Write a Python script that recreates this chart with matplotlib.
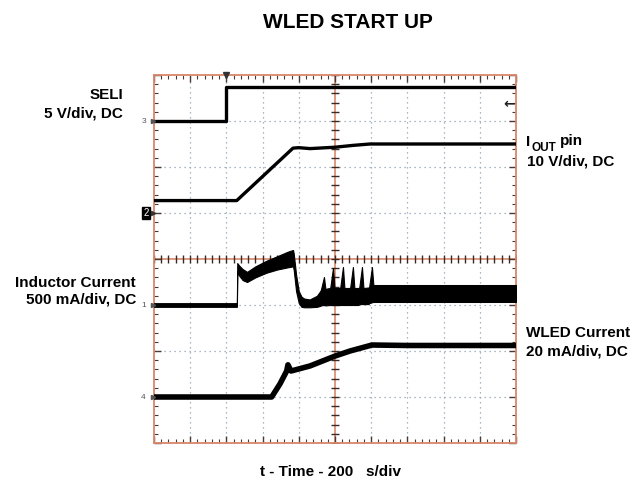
import numpy as np
import matplotlib.pyplot as plt

plt.rcParams['font.family'] = ['Liberation Sans', 'DejaVu Sans']

# time in us, 200 us/div, 10 div
# CH3 SELI, 5 V/div, ground marker at +3 div
seli_t = [0, 400, 400, 2000]
seli_v = [0, 0, 3.7, 3.7]

# CH2 IOUT pin, 10 V/div, ground marker at +1 div
iout_t = [0, 457, 768, 800, 862, 1000, 1100, 1193, 2000]
iout_v = [2.7, 2.7, 14.1, 14.2, 14.0, 14.3, 14.7, 15.0, 15.0]

# CH1 inductor current, 500 mA/div, marker at -1 div (upper / lower envelope of ripple)
ind_t = [0, 458, 460, 470, 490, 514, 560, 620, 680, 740, 768, 772, 785, 800, 815, 830,
         860, 900, 918, 922, 939, 947, 970, 974, 989, 997, 1025, 1029, 1044, 1052,
         1080, 1084, 1099, 1107, 1130, 1134, 1149, 1157, 1185, 1189, 1204, 1212, 1250, 2000]
ind_hi = [20, 20, 456, 430, 390, 360, 420, 480, 530, 580, 598, 560, 330, 150, 90, 70,
          60, 100, 150, 165, 304, 175, 185, 190, 402, 185, 185, 190, 413, 185,
          185, 190, 413, 185, 185, 190, 413, 185, 190, 200, 413, 217, 217, 217]
ind_lo = [-20, -20, 360, 320, 270, 250, 300, 350, 385, 410, 420, 380, 150, 20, -20, -25,
          -25, -20, -10, -5, 0, -5, 0, 0, 0, 0, 0, 0, 0, 0,
          0, 0, 0, 0, 0, 10, 10, 10, 10, 20, 30, 33, 33, 33]

# CH4 WLED current, 20 mA/div, marker at -3 div
wled_t = [0, 650, 696, 733, 740, 757, 862, 1000, 1083, 1204, 1400, 2000]
wled_i = [0, 0, 5.7, 11.3, 14.0, 11.3, 13.5, 17.8, 20.0, 22.6, 22.4, 22.4]

GRID = '#d9876b'
DOT = '#8fa0b3'

fig = plt.figure(figsize=(6.38, 4.8), dpi=100)
ax = fig.add_axes([154 / 638, 1 - 443 / 480, 362 / 638, 368 / 480])
ax.set_xlim(0, 2000)
ax.set_ylim(-4, 4)

# graticule
for k in range(1, 10):
    if k != 5:
        ax.axvline(k * 200, color=DOT, lw=0.9, ls=(0, (1, 3)), zorder=1)
for k in range(-3, 4):
    if k != 0:
        ax.axhline(k, color=DOT, lw=0.9, ls=(0, (1, 3)), zorder=1)
ax.axvline(1000, color=GRID, lw=1.2, zorder=1)
ax.axhline(0, color=GRID, lw=1.2, zorder=1)
minor_x = np.arange(0, 2001, 40)
minor_y = np.arange(-4, 4.01, 0.2)
ax.plot(minor_x, np.zeros_like(minor_x), ls='none', marker='|', ms=6, mew=1.0,
        color='#3a2a25', zorder=2)
ax.plot(np.full_like(minor_y, 1000), minor_y, ls='none', marker='_', ms=6, mew=1.0,
        color='#3a2a25', zorder=2)

for s in ax.spines.values():
    s.set_color(GRID)
    s.set_linewidth(1.3)
ax.set_xticks(np.arange(0, 2001, 200))
ax.set_yticks(np.arange(-4, 5, 1))
ax.set_xticks(minor_x, minor=True)
ax.set_yticks(minor_y, minor=True)
ax.tick_params(which='both', direction='in', top=True, right=True,
               labelbottom=False, labelleft=False, color='#4a3a35')
ax.tick_params(which='major', length=5, width=1.0)
ax.tick_params(which='minor', length=3, width=0.8)

# traces
ax.plot(seli_t, 3 + np.array(seli_v) / 5, color='black', lw=2.4, zorder=5)
ax.plot(iout_t, 1 + np.array(iout_v) / 10, color='black', lw=2.4, zorder=5)
ax.fill_between(ind_t, -1 + np.array(ind_hi) / 500, -1 + np.array(ind_lo) / 500,
                color='black', lw=0.8, zorder=5)
ax.plot(wled_t, -3 + np.array(wled_i) / 20, color='black', lw=4, zorder=5)

# channel markers
for ch, off in [('3', 3), ('1', -1), ('4', -3)]:
    ax.plot(-8, off, marker='>', ms=3, color='#555555', clip_on=False, zorder=6)
    ax.text(-45, off, ch, ha='right', va='center', fontsize=6, color='#555555',
            clip_on=False)
ax.text(-30, 1, '2', ha='right', va='center', fontsize=7, color='white',
        bbox=dict(boxstyle='square,pad=0.15', fc='black', ec='black'), clip_on=False)
ax.plot(-8, 1, marker='>', ms=3, color='#333333', clip_on=False, zorder=6)
ax.plot(400, 4, marker='v', ms=5, color='#333333', clip_on=False, zorder=6)
ax.text(1995, 3.37, '\u2190', ha='right', va='center', fontsize=10, fontweight='bold',
        color='#222222', family='DejaVu Sans')

# labels
fig.text(348 / 638, 1 - 22 / 480, 'WLED START UP', ha='center', va='center',
         fontsize=15, fontweight='bold')
fig.text(123 / 638, 1 - 95 / 480, 'SELI', ha='right', va='center', fontsize=11, fontweight='bold')
fig.text(123 / 638, 1 - 113 / 480, '5 V/div, DC', ha='right', va='center', fontsize=11,
         fontweight='bold')
fig.text(526 / 638, 1 - 146 / 480, 'I', ha='left', va='baseline', fontsize=11,
         fontweight='bold')
fig.text(532 / 638, 1 - 151 / 480, 'OUT', ha='left', va='baseline', fontsize=8.5,
         fontweight='bold')
fig.text(560 / 638, 1 - 145 / 480, 'pin', ha='left', va='baseline', fontsize=11,
         fontweight='bold')
fig.text(527 / 638, 1 - 162 / 480, '10 V/div, DC', ha='left', va='center', fontsize=11,
         fontweight='bold')
fig.text(136 / 638, 1 - 283 / 480, 'Inductor Current', ha='right', va='center', fontsize=11,
         fontweight='bold')
fig.text(136 / 638, 1 - 300 / 480, '500 mA/div, DC', ha='right', va='center', fontsize=11,
         fontweight='bold')
fig.text(526 / 638, 1 - 333 / 480, 'WLED Current', ha='left', va='center', fontsize=11,
         fontweight='bold')
fig.text(526 / 638, 1 - 351 / 480, '20 mA/div, DC', ha='left', va='center', fontsize=11,
         fontweight='bold')
fig.text(331 / 638, 1 - 472 / 480, 't - Time - 200   s/div', ha='center', va='center',
         fontsize=11, fontweight='bold')

fig.savefig('out.png', dpi=100)
